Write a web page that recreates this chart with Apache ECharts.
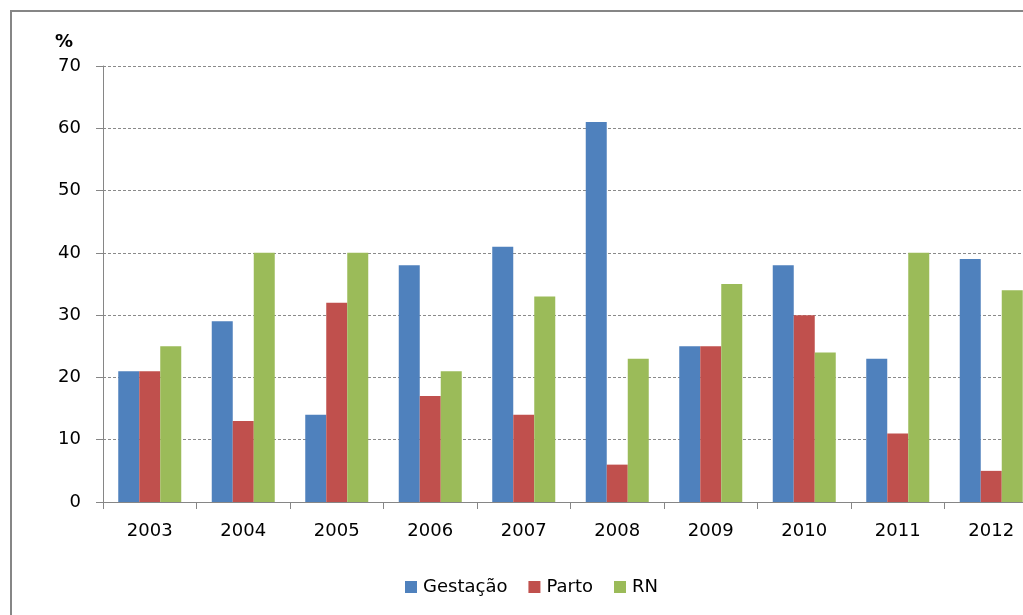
<!DOCTYPE html>
<html>
<head>
<meta charset="utf-8">
<title>Gestação, Parto e RN por ano</title>
<script src="https://cdn.jsdelivr.net/npm/echarts@6/dist/echarts.min.js"></script>
<style>
  html, body { margin: 0; padding: 0; background: #fff; overflow: hidden; }
  /* the chart is a little wider than the window; its right edge is cut off */
  #chart { width: 1060px; height: 615px; }
</style>
</head>
<body>
<div id="chart"></div>
<script>
// Years on the category axis
const years = ['2003', '2004', '2005', '2006', '2007', '2008', '2009', '2010', '2011', '2012'];

// Percentages per year
const gestacao = [21, 29, 14, 38, 41, 61, 25, 38, 23, 39];
const parto    = [21, 13, 32, 17, 14, 6, 25, 30, 11, 5];
const rn       = [25, 40, 40, 21, 33, 23, 35, 24, 40, 34];

// Value axis range and step
const yMin = 0;
const yMax = 70;
const yStep = 10;

const seriesNames = ['Gestação', 'Parto', 'RN'];
const seriesColors = ['#4F81BD', '#C0504D', '#9BBB59'];

const font = '"DejaVu Sans", sans-serif';
const axisGray = '#868686';

const chart = echarts.init(document.getElementById('chart'), null, { renderer: 'canvas' });

const makeBar = (name, data, color) => ({
  name: name,
  type: 'bar',
  data: data,
  barWidth: 21,
  barGap: '0%',
  itemStyle: { color: color },
  emphasis: { disabled: true }
});

chart.setOption({
  animation: false,
  backgroundColor: '#ffffff',
  textStyle: { fontFamily: font, color: '#000' },
  grid: { left: 103, top: 66, width: 935, height: 436, containLabel: false },
  graphic: [
    {
      // chart frame: left and top edges (the rest runs off the page)
      type: 'polyline',
      shape: { points: [[11, 800], [11, 11], [1300, 11]] },
      style: { fill: null, stroke: axisGray, lineWidth: 2 },
      silent: true
    },
    {
      type: 'text',
      left: 55,
      top: 33,
      style: { text: '%', fontSize: 18, fontWeight: 'bold', fontFamily: font, fill: '#000' },
      silent: true
    }
  ],
  legend: {
    data: seriesNames,
    left: 400,
    top: 573,
    icon: 'rect',
    itemWidth: 12,
    itemHeight: 12,
    itemGap: 21,
    textStyle: { fontSize: 18, fontFamily: font, color: '#000', padding: [0, 0, 0, 1] },
    selectedMode: false
  },
  xAxis: {
    type: 'category',
    data: years,
    boundaryGap: true,
    axisLine: { show: true, lineStyle: { color: axisGray, width: 1 } },
    axisTick: { show: true, alignWithLabel: false, length: 7, lineStyle: { color: axisGray } },
    axisLabel: { fontSize: 18, fontFamily: font, color: '#000', margin: 20 },
    splitLine: { show: false }
  },
  yAxis: {
    type: 'value',
    min: yMin,
    max: yMax,
    interval: yStep,
    axisLine: { show: true, lineStyle: { color: axisGray, width: 1 } },
    axisTick: { show: true, length: 7, lineStyle: { color: axisGray } },
    axisLabel: { fontSize: 18, fontFamily: font, color: '#000', margin: 22 },
    splitLine: { show: true, lineStyle: { color: '#8a8a8a', type: [3, 2], width: 1 } }
  },
  series: [
    makeBar(seriesNames[0], gestacao, seriesColors[0]),
    makeBar(seriesNames[1], parto, seriesColors[1]),
    makeBar(seriesNames[2], rn, seriesColors[2])
  ]
});
</script>
</body>
</html>
